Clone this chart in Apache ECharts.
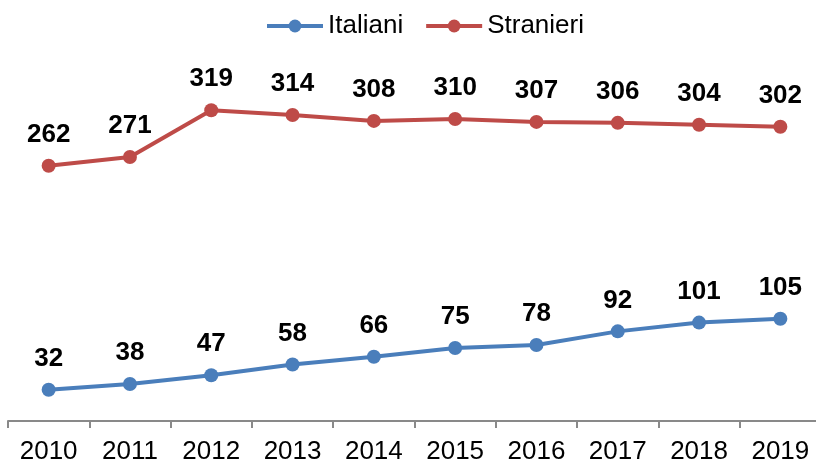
<!DOCTYPE html>
<html>
<head>
<meta charset="utf-8">
<script src="https://cdn.jsdelivr.net/npm/echarts@6/dist/echarts.min.js"></script>
<style>
	html, body { margin: 0; padding: 0; background: #fff; overflow: hidden; }
	#chart { width: 830px; height: 465px; }
</style>
</head>
<body>
<div id="chart"></div>
<script>
var anni = ['2010', '2011', '2012', '2013', '2014', '2015', '2016', '2017', '2018', '2019'];
var italiani = [32, 38, 47, 58, 66, 75, 78, 92, 101, 105];
var stranieri = [262, 271, 319, 314, 308, 310, 307, 306, 304, 302];

var FONT = 'Arial, "Liberation Sans", sans-serif';

// il div è più largo della finestra: l'ultima categoria esce a destra come nell'originale
var myChart = echarts.init(document.getElementById('chart'), null, { renderer: 'canvas' });

function serie(name, data, color) {
	return {
		name: name,
		type: 'line',
		data: data,
		symbol: 'circle',
		symbolSize: 14,
		color: color,
		lineStyle: { width: 4, color: color },
		itemStyle: { color: color },
		label: {
			show: true,
			position: 'top',
			distance: 11,
			color: '#000',
			fontWeight: 'bold',
			fontSize: 26,
			fontFamily: FONT
		},
		animation: false
	};
}

var option = {
	backgroundColor: '#fff',
	legend: {
		top: 8,
		left: 260,
		itemWidth: 56,
		itemHeight: 16,
		itemGap: 21,
		lineStyle: { width: 4 },
		textStyle: { fontSize: 26, color: '#000', fontFamily: FONT },
		data: ['Italiani', 'Stranieri']
	},
	grid: {
		left: 8,
		top: 80,
		width: 813,
		bottom: 42,
		containLabel: false
	},
	xAxis: {
		type: 'category',
		data: anni,
		boundaryGap: true,
		axisLine: { lineStyle: { color: '#898989', width: 2 } },
		axisTick: { show: true, length: 7, lineStyle: { color: '#898989', width: 2 } },
		axisLabel: { color: '#000', fontSize: 26, fontFamily: FONT, margin: 18 }
	},
	yAxis: {
		type: 'value',
		min: 0,
		max: 350,
		show: false,
		splitLine: { show: false }
	},
	series: [
		serie('Italiani', italiani, '#4a7ebb'),
		serie('Stranieri', stranieri, '#be4b48')
	]
};

myChart.setOption(option);
</script>
</body>
</html>
